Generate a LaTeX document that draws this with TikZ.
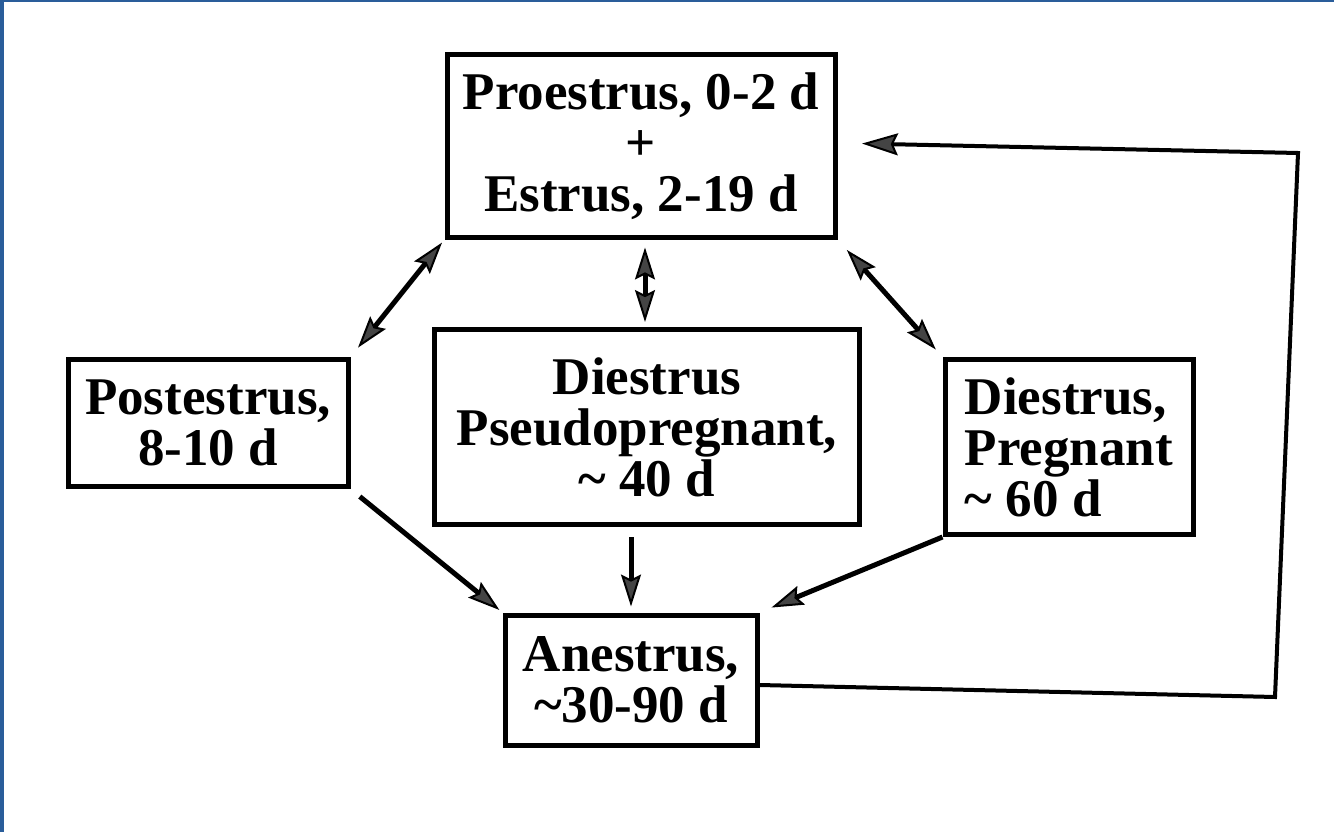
\documentclass[tikz,border=0pt]{standalone}
\usepackage{fontspec}
\setmainfont{Liberation Serif}
\usetikzlibrary{arrows.meta}
\definecolor{edgeblue}{HTML}{2A5D9A}
\definecolor{tipgray}{HTML}{444444}
\begin{document}
\begin{tikzpicture}[x=1pt,y=-1pt,
  box/.style={draw=black,line width=5pt,rectangle,inner sep=0pt,align=center,
    font=\fontsize{53}{51}\selectfont\bfseries},
  conn/.style={line width=5pt,draw=black},
  tip/.style={-{Stealth[length=32pt,width=20pt,inset=5pt,fill=tipgray,line width=2pt]}},
  dtip/.style={{Stealth[length=32pt,width=20pt,inset=5pt,fill=tipgray,line width=2pt]}-{Stealth[length=32pt,width=20pt,inset=5pt,fill=tipgray,line width=2pt]}}
]
\path[use as bounding box] (0,0) rectangle (1334,832);
\fill[white] (0,0) rectangle (1334,832);
\fill[edgeblue] (0,0) rectangle (4,832);
\fill[edgeblue] (0,0) rectangle (1334,2);

\node[box,minimum width=388pt,minimum height=182pt] (top) at (641,146)
  {Proestrus, 0-2 d\\+\\Estrus, 2-19 d};
\node[box,minimum width=280pt,minimum height=127pt] (post) at (208,423)
  {Postestrus,\\8-10 d};
\node[box,minimum width=425pt,minimum height=195pt] (mid) at (647,427)
  {Diestrus\\Pseudopregnant,\\\textasciitilde\ 40 d};
\node[box,align=left,minimum width=248pt,minimum height=175pt] (right) at (1069,447)
  {Diestrus,\\Pregnant\\\textasciitilde\ 60 d};
\node[box,minimum width=252pt,minimum height=130pt] (an) at (631,680)
  {Anestrus,\\\textasciitilde30-90 d};

\coordinate (c1) at (1275,697);
\coordinate (c2) at (1298,153);
\coordinate (c3) at (836,143);

\draw[conn,dtip,shorten <=4pt,shorten >=12pt] (top.south west) -- (post.north east);
\draw[conn,dtip,shorten <=8pt,shorten >=5pt] ([xshift=4pt]top.south) -- ([xshift=-2pt]mid.north);
\draw[conn,dtip,shorten <=14pt,shorten >=10pt] (top.south east) -- (right.north west);
\draw[conn,tip,shorten <=12pt,shorten >=4pt] (post.south east) -- (an.north west);
\draw[conn,tip,shorten <=10pt,shorten >=6pt] (mid.south -| an.north) -- (an.north);
\draw[conn,tip,shorten >=13pt] (right.south west) -- (an.north east);
\draw[line width=4pt,draw=black,line join=miter,
  -{Stealth[length=36pt,width=22pt,inset=5pt,fill=tipgray,line width=2pt]},shorten >=26pt]
  (an.east |- 0,685) -- (c1) -- (c2) -- (c3);
\end{tikzpicture}
\end{document}
